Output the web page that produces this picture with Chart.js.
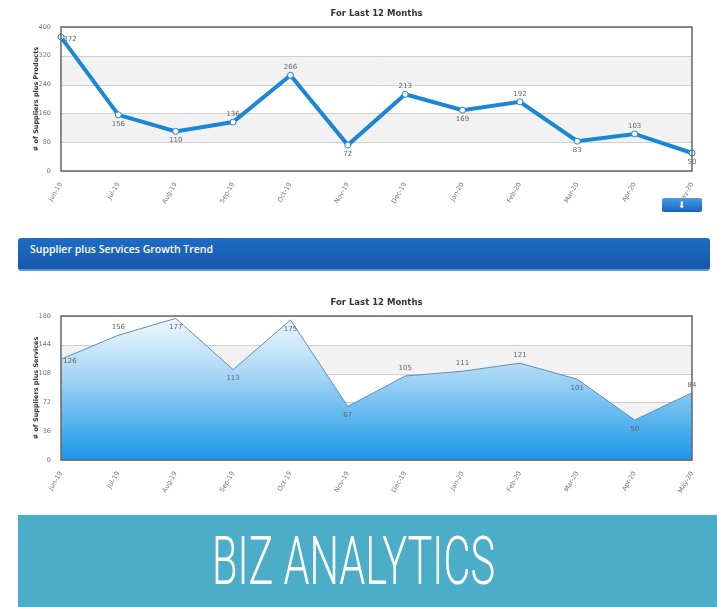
<!DOCTYPE html>
<html>
<head>
<meta charset="utf-8">
<script src="https://cdn.jsdelivr.net/npm/chart.js@4.4.1/dist/chart.umd.min.js"></script>
<style>
  body { margin: 0; width: 717px; height: 607px; background: #fff; position: relative; overflow: hidden; font-family: "Open Sans", sans-serif; }
  .box { position: absolute; left: 0; width: 717px; }
  #topBox { top: 0; height: 215px; }
  #bottomBox { top: 289px; height: 220px; }
  .dl { position: absolute; left: 662px; top: 198px; width: 40px; height: 14px; border-radius: 2px;
        background: linear-gradient(#4a9be6, #1463bf); color: #fff; font-size: 9px; text-align: center; line-height: 14px; }
  .bar { position: absolute; left: 18px; top: 238px; width: 692px; height: 33px; border-radius: 3px;
         background: linear-gradient(#1f6cc4, #1659ad); border-bottom: 2px solid #5a97d8; box-sizing: border-box; }
  .bar span { position: absolute; left: 12px; top: 4px; color: #fff; font-size: 10.5px; font-weight: 600; }
  .banner { position: absolute; left: 18px; top: 515px; width: 699px; height: 92px; background: #4badc8; }
  #bizText { position: absolute; left: 194px; top: 6px; color: #fff; font-family: Roboto, sans-serif; font-weight: 300;
             font-size: 67px; line-height: 80px; white-space: nowrap; transform-origin: 0 0; }
</style>
</head>
<body>
<div class="box" id="topBox"><canvas id="productsChart"></canvas></div>
<div class="dl">&#11015;</div>
<div class="bar"><span>Supplier plus Services Growth Trend</span></div>
<div class="box" id="bottomBox"><canvas id="servicesChart"></canvas></div>
<div class="banner"><span id="bizText">BIZ ANALYTICS</span></div>
<script>
const months = ["Jun-19", "Jul-19", "Aug-19", "Sep-19", "Oct-19", "Nov-19", "Dec-19", "Jan-20", "Feb-20", "Mar-20", "Apr-20", "May-20"];
const productCounts = [372, 156, 110, 136, 266, 72, 213, 169, 192, 83, 103, 50];
const serviceCounts = [126, 156, 177, 113, 175, 67, 105, 111, 121, 101, 50, 84];
const productTicks = [0, 80, 160, 240, 320, 400];
const serviceTicks = [0, 36, 72, 108, 144, 180];
const chartTitle = "For Last 12 Months";

// squeeze the banner text to a condensed look
const biz = document.getElementById("bizText");
biz.style.transform = "scaleX(" + (283 / biz.getBoundingClientRect().width) + ")";

// grey bands + frame behind the data
const bandsPlugin = {
  id: "bands",
  beforeDatasetsDraw(chart) {
    const { ctx, chartArea, scales } = chart;
    const ticks = scales.y.ticks;
    ctx.save();
    ctx.fillStyle = "#f2f2f2";
    for (let i = 1; i + 1 < ticks.length; i += 2) {
      const y1 = scales.y.getPixelForValue(ticks[i + 1].value);
      const y2 = scales.y.getPixelForValue(ticks[i].value);
      ctx.fillRect(chartArea.left, y1, chartArea.right - chartArea.left, y2 - y1);
    }
    ctx.strokeStyle = "#cfcfcf";
    ctx.lineWidth = 1;
    ticks.forEach(function (t) {
      const y = Math.round(scales.y.getPixelForValue(t.value)) + 0.5;
      ctx.beginPath();
      ctx.moveTo(chartArea.left, y);
      ctx.lineTo(chartArea.right, y);
      ctx.stroke();
    });
    ctx.restore();
  },
  afterDatasetsDraw(chart) {
    const { ctx, chartArea } = chart;
    ctx.save();
    ctx.strokeStyle = "#666";
    ctx.lineWidth = 1.5;
    ctx.strokeRect(chartArea.left, chartArea.top, chartArea.right - chartArea.left, chartArea.bottom - chartArea.top);
    // title centred over the plot area
    ctx.font = "bold 8.5px 'DejaVu Sans'";
    ctx.fillStyle = "#333";
    ctx.textAlign = "center";
    ctx.textBaseline = "middle";
    ctx.fillText(chartTitle, (chartArea.left + chartArea.right) / 2, chartArea.top - 13);
    ctx.restore();
  },
};

// value labels next to each point
const valueLabels = {
  id: "valueLabels",
  afterDatasetsDraw(chart) {
    const { ctx, chartArea } = chart;
    const data = chart.data.datasets[0].data;
    const meta = chart.getDatasetMeta(0);
    ctx.save();
    ctx.font = "7px 'DejaVu Sans'";
    ctx.fillStyle = "#666";
    ctx.textAlign = "center";
    ctx.textBaseline = "middle";
    meta.data.forEach(function (pt, i) {
      let x = pt.x, y = pt.y;
      if (i === 0) {
        x += 9; y += 2;
      } else if (data[i - 1] > data[i] || y - 12 < chartArea.top) {
        y += 9;
      } else {
        y -= 8;
      }
      ctx.fillText(String(data[i]), x, y);
    });
    ctx.restore();
  },
};

function makeOptions(yTitle, ticks, xHeight) {
  return {
    responsive: true,
    maintainAspectRatio: false,
    animation: false,
    layout: { padding: { left: 32, right: 25, top: 27, bottom: 0 } },
    plugins: {
      legend: { display: false },
      tooltip: { enabled: false },
      title: { display: false },
    },
    scales: {
      x: {
        offset: false,
        grid: { display: false },
        border: { display: false },
        ticks: {
          minRotation: 60,
          maxRotation: 60,
          color: "#777",
          font: { family: "DejaVu Sans", size: 6.5 },
          padding: 2,
        },
        afterFit(scale) { scale.height = xHeight; },
      },
      y: {
        min: ticks[0],
        max: ticks[ticks.length - 1],
        grid: { display: false },
        border: { display: false },
        afterBuildTicks(scale) { scale.ticks = ticks.map(function (v) { return { value: v }; }); },
        ticks: { color: "#777", font: { family: "DejaVu Sans", size: 6.5 }, padding: 2 },
        title: {
          display: true,
          text: yTitle,
          color: "#333",
          font: { family: "DejaVu Sans", size: 6.5, weight: "bold" },
          padding: { top: 0, bottom: 2 },
        },
        afterFit(scale) { scale.width = 29; },
      },
    },
  };
}

new Chart(document.getElementById("productsChart").getContext("2d"), {
  type: "line",
  data: {
    labels: months,
    datasets: [
      {
        data: productCounts,
        borderColor: "#1a87d6",
        borderWidth: 4,
        pointRadius: 3,
        pointBackgroundColor: "#fff",
        pointBorderColor: "#1a87d6",
        pointBorderWidth: 1,
        tension: 0,
        fill: false,
      },
    ],
  },
  options: makeOptions("# of Suppliers plus Products", productTicks, 44),
  plugins: [bandsPlugin, valueLabels],
});

new Chart(document.getElementById("servicesChart").getContext("2d"), {
  type: "line",
  data: {
    labels: months,
    datasets: [
      {
        data: serviceCounts,
        borderColor: "#5b8fba",
        borderWidth: 1,
        pointRadius: 0,
        tension: 0,
        fill: "origin",
        backgroundColor: function (context) {
          const area = context.chart.chartArea;
          if (!area) return "#8cc8f0";
          const g = context.chart.ctx.createLinearGradient(0, area.top, 0, area.bottom);
          g.addColorStop(0, "#f2f9ff");
          g.addColorStop(0.35, "#b3dbf6");
          g.addColorStop(1, "#1898e8");
          return g;
        },
      },
    ],
  },
  options: makeOptions("# of Suppliers plus Services", serviceTicks, 49),
  plugins: [bandsPlugin, valueLabels],
});
</script>
</body>
</html>
